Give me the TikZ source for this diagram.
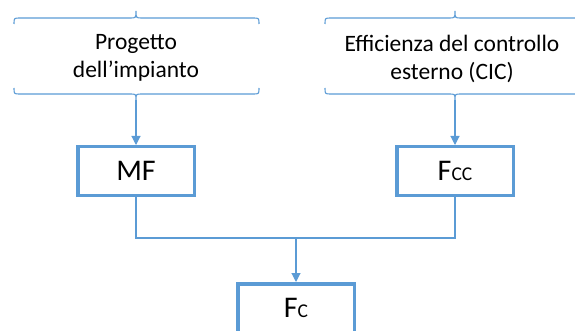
\documentclass[tikz,border=0pt]{standalone}
\usepackage{fontspec}
\setmainfont{Carlito}
\usetikzlibrary{arrows.meta}

\definecolor{offblue}{HTML}{5B9BD5}

\tikzset{
    blk/.style={draw=offblue, line width=3.5pt, fill=white, minimum width=116.5pt, minimum height=48.5pt, inner sep=0pt, font=\fontsize{30}{36}\selectfont},
    link/.style={draw=offblue, line width=1.1pt},
    lbl/.style={align=center, inner sep=0pt, font=\fontsize{23.5}{28}\selectfont}
}

\newcommand{\smc}[1]{{\fontsize{19.5}{24}\selectfont #1}}

\begin{document}
\begin{tikzpicture}[x=1pt, y=-1pt]
    \clip (0,0) rectangle (575,331);

    % labels under the braces
    \node[lbl] (design) at (136,58) {Progetto\\dell'impianto};
    \node[lbl] (ctrl) at (452,59) {Efficienza del controllo\\esterno (CIC)};

    % braces
    \draw[link] (14,24) .. controls (14,18) .. (20,18) -- (130,18) .. controls (136,18) .. (136,11)
        .. controls (136,18) .. (142,18) -- (253,18) .. controls (259,18) .. (259,24);
    \draw[link] (14,88) .. controls (14,94) .. (20,94) -- (130,94) .. controls (136,94) .. (136,100)
        .. controls (136,94) .. (142,94) -- (253,94) .. controls (259,94) .. (259,88);
    \draw[link] (325,24) .. controls (325,18) .. (331,18) -- (449,18) .. controls (455,18) .. (455,11)
        .. controls (455,18) .. (461,18) -- (579,18) .. controls (585,18) .. (585,24);
    \draw[link] (325,88) .. controls (325,94) .. (331,94) -- (449,94) .. controls (455,94) .. (455,100)
        .. controls (455,94) .. (461,94) -- (579,94) .. controls (585,94) .. (585,88);
    \coordinate (ltip) at (136,100);
    \coordinate (rtip) at (455,100);

    % boxes
    \node[blk] (mf) at (136,171) {MF};
    \node[blk] (fcc) at (455,171) {F\smc{CC}};
    \node[blk] (fc) at (296,308) {F\smc{C}};
    \coordinate (join) at (296,238);

    % connectors
    \draw[link, -{Triangle[width=9pt,length=9pt]}] (ltip) -- (mf.north);
    \draw[link, -{Triangle[width=9pt,length=9pt]}] (rtip) -- (fcc.north);
    \draw[link] (mf.south) |- (join);
    \draw[link] (fcc.south) |- (join);
    \draw[link, -{Triangle[width=9pt,length=9pt]}] (join) -- (fc.north);
\end{tikzpicture}
\end{document}
